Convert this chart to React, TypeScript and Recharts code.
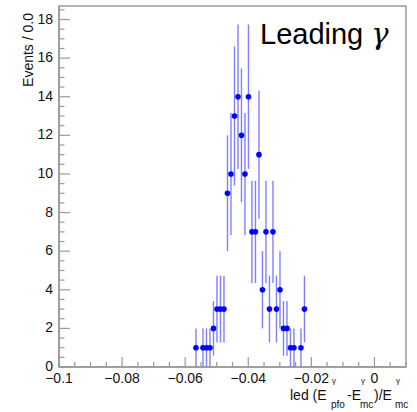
import { ScatterChart, Scatter, XAxis, YAxis, ErrorBar, ReferenceArea } from "recharts";

// bin centres (bin width ~0.0011) and entries, empty bins left out
const BIN_X = [
  -0.05658, -0.05436, -0.05325, -0.05214, -0.05103, -0.04992, -0.04881, -0.0477,
  -0.04659, -0.04548, -0.04437, -0.04326, -0.04216, -0.04105, -0.03994, -0.03883,
  -0.03772, -0.03661, -0.0355, -0.03439, -0.03328, -0.03217, -0.03106, -0.02995,
  -0.02884, -0.02773, -0.02662, -0.02552, -0.0233, -0.02219,
];
const COUNTS = [
  1, 1, 1, 1, 2, 3, 3, 3,
  9, 10, 13, 14, 12, 10, 14, 7,
  7, 11, 4, 7, 3, 7, 3, 4,
  2, 2, 1, 1, 1, 3,
];

const X_MAJOR = [-0.1, -0.08, -0.06, -0.04, -0.02, 0];
const X_LABELS = ["\u22120.1", "\u22120.08", "\u22120.06", "\u22120.04", "\u22120.02", "0"];
const Y_MAJOR = [0, 2, 4, 6, 8, 10, 12, 14, 16, 18];
const Y_LABELS = ["0", "2", "4", "6", "8", "10", "12", "14", "16", "18"];

const X_MIN = -0.1;
const X_MAX = 0.01;
const Y_MAX = 18.7;

const AXIS = "#999999";
const TEXT = "#111111";
const BLUE = "#0000ff";
const FONT = "'Liberation Sans', Arial, Helvetica, sans-serif";
const GAP = 4;

const data = BIN_X.map((x, i) => ({ x, y: COUNTS[i], err: Math.sqrt(COUNTS[i]) }));

// minor ticks every 0.005 in x and 0.5 in y
const xTicks = Array.from({ length: 23 }, (_, i) => +(X_MIN + i * 0.005).toFixed(4));
const yTicks = Array.from({ length: 38 }, (_, i) => i * 0.5);

function XTick(props: any) {
  const { x, y, payload } = props;
  const idx = X_MAJOR.findIndex((m) => Math.abs(m - payload.value) < 1e-9);
  const axisY = y - GAP;
  return (
    <g>
      <line x1={x} x2={x} y1={axisY} y2={axisY - (idx >= 0 ? 10 : 5)} stroke={AXIS} strokeWidth={1.2} />
      {idx >= 0 && (
        <text x={x} y={axisY + 16} textAnchor="middle" fontSize={14} fontFamily={FONT} fill={TEXT}>
          {X_LABELS[idx]}
        </text>
      )}
    </g>
  );
}

function YTick(props: any) {
  const { x, y, payload } = props;
  const idx = Y_MAJOR.indexOf(payload.value);
  const axisX = x + GAP;
  return (
    <g>
      <line x1={axisX} x2={axisX + (idx >= 0 ? 11 : 5.5)} y1={y} y2={y} stroke={AXIS} strokeWidth={1.2} />
      {idx >= 0 && (
        <text x={axisX - 6} y={y + 4} textAnchor="end" fontSize={14} fontFamily={FONT} fill={TEXT}>
          {Y_LABELS[idx]}
        </text>
      )}
    </g>
  );
}

const Dot = (p: any) => <circle cx={p.cx} cy={p.cy} r={2.8} fill={BLUE} />;

// pieces of the x title: main text, superscript gamma, subscript
const T = { fontFamily: FONT, fill: TEXT };

export default function App() {
  return (
    <div style={{ position: "relative", width: 417, height: 412, background: "#fff" }}>
      <style>{"body{margin:0}"}</style>
      <ScatterChart width={417} height={412} margin={{ top: 6, right: 11, bottom: 0, left: 0 }}>
        <XAxis
          type="number"
          dataKey="x"
          domain={[X_MIN, X_MAX]}
          ticks={xTicks}
          interval={0}
          height={45}
          tickSize={0}
          tickMargin={GAP}
          tick={<XTick />}
          axisLine={{ stroke: AXIS, strokeWidth: 1.5 }}
          allowDataOverflow
        />
        <YAxis
          type="number"
          dataKey="y"
          domain={[0, Y_MAX]}
          ticks={yTicks}
          interval={0}
          width={59}
          tickSize={0}
          tickMargin={GAP}
          tick={<YTick />}
          axisLine={{ stroke: AXIS, strokeWidth: 1.5 }}
          allowDataOverflow
        />
        <ReferenceArea
          x1={X_MIN}
          x2={X_MAX}
          y1={0}
          y2={Y_MAX}
          fill="none"
          stroke={AXIS}
          strokeWidth={1.5}
          ifOverflow="visible"
        />
        <Scatter data={data} shape={Dot} isAnimationActive={false}>
          <ErrorBar
            dataKey="err"
            direction="y"
            width={0}
            stroke={BLUE}
            strokeOpacity={0.5}
            strokeWidth={1.4}
            isAnimationActive={false}
          />
        </Scatter>
      </ScatterChart>
      <svg width={417} height={412} style={{ position: "absolute", left: 0, top: 0, pointerEvents: "none" }}>
        <text x={33} y={13} transform="rotate(-90, 33, 13)" textAnchor="end" fontSize={14} {...T}>
          Events / 0.0
        </text>
        <text x={290} y={400} fontSize={14} {...T}>led (E</text>
        <text x={332} y={383} fontSize={8} {...T}>γ</text>
        <text x={331} y={408} fontSize={10} {...T}>pfo</text>
        <text x={347} y={400} fontSize={14} {...T}>-E</text>
        <text x={361} y={383} fontSize={8} {...T}>γ</text>
        <text x={360} y={408} fontSize={10} {...T}>mc</text>
        <text x={374} y={400} fontSize={14} {...T}>)/E</text>
        <text x={396} y={383} fontSize={8} {...T}>γ</text>
        <text x={395} y={408} fontSize={10} {...T}>mc</text>
        <text x={260} y={44} fontSize={29} fontFamily={FONT} fill="#000">
          Leading <tspan fontStyle="italic" fontFamily="'DejaVu Serif', serif">γ</tspan>
        </text>
      </svg>
    </div>
  );
}
